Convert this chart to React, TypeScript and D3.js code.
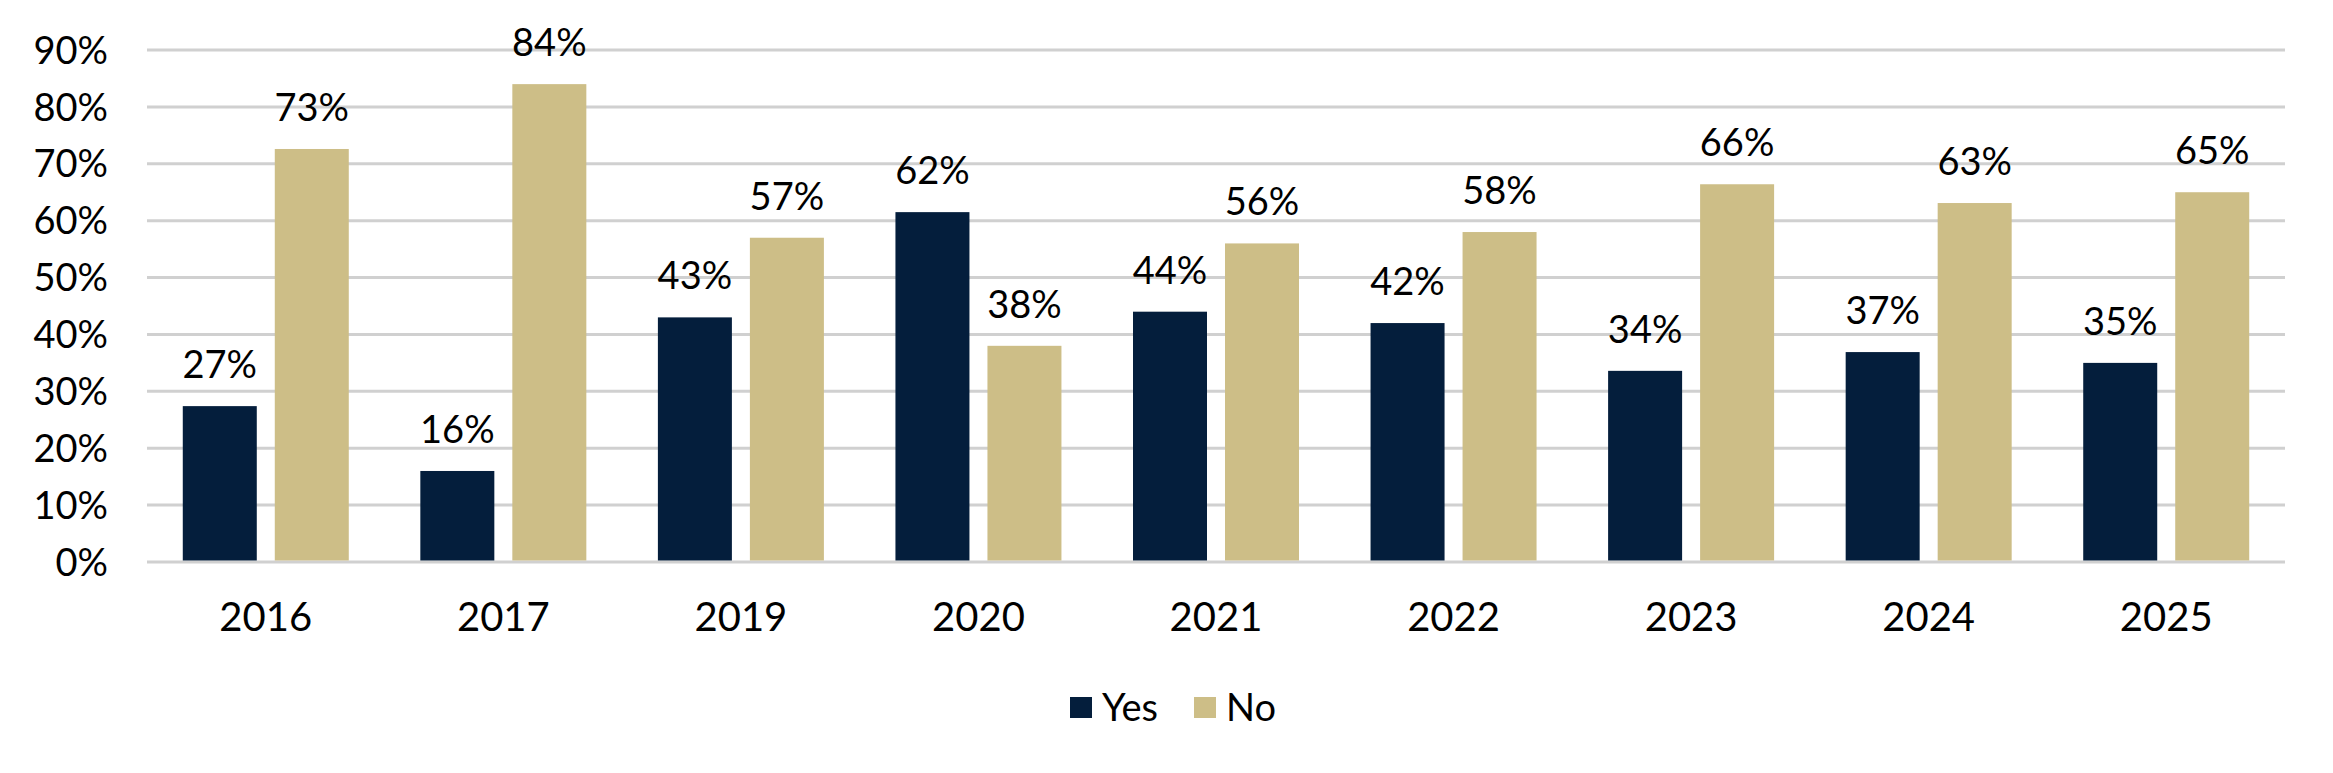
import { useEffect, useRef } from 'react';
import * as d3 from 'd3';

const YEARS = ['2016', '2017', '2019', '2020', '2021', '2022', '2023', '2024', '2025'];
const YES = [27.4, 16, 43, 61.5, 44, 42, 33.6, 36.9, 35];
const NO = [72.6, 84, 57, 38, 56, 58, 66.4, 63.1, 65];
const SERIES = ['Yes', 'No'];
const COLORS = ['#041E3C', '#CDBE87'];
const Y_TICKS = [0, 10, 20, 30, 40, 50, 60, 70, 80, 90];

export default function App() {
  const svgRef = useRef<SVGSVGElement>(null);

  useEffect(() => {
    document.body.style.margin = '0';
    if (!svgRef.current) return;

    const svg = d3.select(svgRef.current);
    svg.selectAll('*').remove();

    const width = 2333;
    const height = 773;
    const margin = { top: 50, right: 48, bottom: 211, left: 147 };
    const innerWidth = width - margin.left - margin.right;
    const innerHeight = height - margin.top - margin.bottom;
    const font = 'Lato, "Open Sans", sans-serif';

    const x0 = d3.scaleBand().domain(YEARS).range([0, innerWidth]).padding(0);
    const bw = 74;
    const gap = 18;
    const yScale = d3.scaleLinear().domain([0, 90]).range([innerHeight, 0]);
    const color = d3.scaleOrdinal<string, string>().domain(SERIES).range(COLORS);

    const g = svg.append('g').attr('transform', `translate(${margin.left},${margin.top})`);

    // gridlines
    g.selectAll('.grid')
      .data(Y_TICKS)
      .enter()
      .append('line')
      .attr('x1', 0)
      .attr('x2', innerWidth)
      .attr('y1', (d) => yScale(d))
      .attr('y2', (d) => yScale(d))
      .attr('stroke', '#D0D0D0')
      .attr('stroke-width', 3);

    // y tick labels
    g.selectAll('.ytick')
      .data(Y_TICKS)
      .enter()
      .append('text')
      .attr('x', -39)
      .attr('y', (d) => yScale(d))
      .attr('dy', '0.36em')
      .attr('text-anchor', 'end')
      .style('font-family', font)
      .style('font-size', '38px')
      .style('fill', '#000')
      .text((d) => `${d}%`);

    const rows = YEARS.map((year, i) => ({ year, values: [YES[i], NO[i]] }));

    const groups = g
      .selectAll('.cat')
      .data(rows)
      .enter()
      .append('g')
      .attr('transform', (d) => `translate(${(x0(d.year) || 0) + x0.bandwidth() / 2},0)`);

    const bars = groups
      .selectAll('.bar')
      .data((d) => d.values.map((v, j) => ({ v, j })))
      .enter();

    bars
      .append('rect')
      .attr('x', (d) => (d.j === 0 ? -gap / 2 - bw : gap / 2))
      .attr('y', (d) => yScale(d.v))
      .attr('width', bw)
      .attr('height', (d) => innerHeight - yScale(d.v) - 1.5)
      .attr('fill', (d) => color(SERIES[d.j]));

    bars
      .append('text')
      .attr('x', (d) => (d.j === 0 ? -gap / 2 - bw / 2 : gap / 2 + bw / 2))
      .attr('y', (d) => yScale(d.v) - 28)
      .attr('text-anchor', 'middle')
      .style('font-family', font)
      .style('font-size', '38px')
      .style('fill', '#000')
      .text((d) => `${Math.round(d.v)}%`);

    // category labels
    groups
      .append('text')
      .attr('y', innerHeight + 69)
      .attr('text-anchor', 'middle')
      .style('font-family', font)
      .style('font-size', '40px')
      .style('fill', '#000')
      .text((d) => d.year);

    // legend
    const legend = svg.append('g').attr('transform', 'translate(1070,697)');
    const items = legend
      .selectAll('.item')
      .data(SERIES)
      .enter()
      .append('g')
      .attr('transform', (d, i) => `translate(${i * 124},0)`);
    items
      .append('rect')
      .attr('width', 22)
      .attr('height', 21)
      .attr('fill', (d) => color(d));
    items
      .append('text')
      .attr('x', 32)
      .attr('y', 24)
      .style('font-family', font)
      .style('font-size', '38px')
      .style('fill', '#000')
      .text((d) => d);
  }, []);

  return <svg ref={svgRef} width={2333} height={773} style={{ display: 'block', background: '#fff' }} />;
}
